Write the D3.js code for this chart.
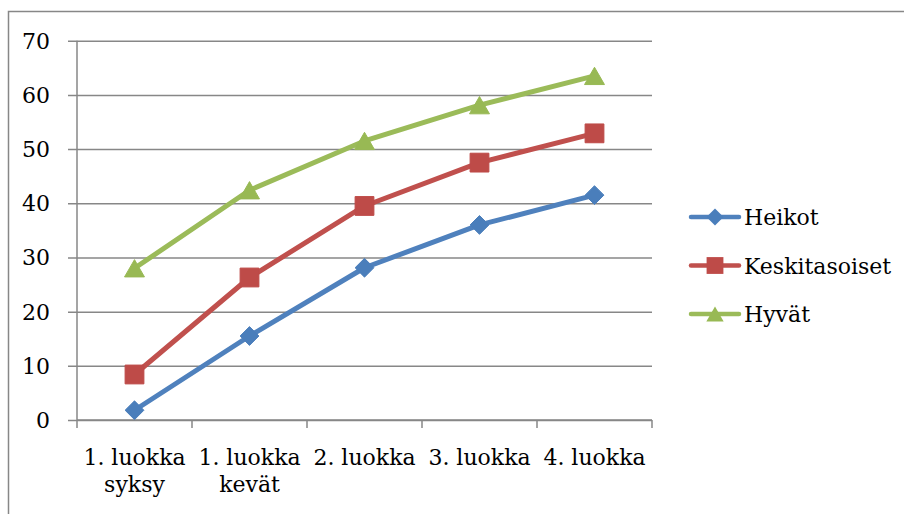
<!DOCTYPE html>
<html>
<head>
<meta charset="utf-8">
<script src="https://cdn.jsdelivr.net/npm/d3@7"></script>
<style>
  html, body { margin: 0; padding: 0; background: #fff; }
  svg { display: block; }
</style>
</head>
<body>
<svg id="chart" width="904" height="514"></svg>
<script>
// Category labels (two-line labels split on "\n")
const categories = ["1. luokka\nsyksy", "1. luokka\nkevät", "2. luokka", "3. luokka", "4. luokka"];
const seriesNames = ["Heikot", "Keskitasoiset", "Hyvät"];
const heikot = [1.8, 15.5, 28.1, 36.0, 41.5];
const keskitasoiset = [8.4, 26.3, 39.5, 47.5, 52.9];
const hyvat = [28.0, 42.4, 51.5, 58.1, 63.5];
const yTicks = [0, 10, 20, 30, 40, 50, 60, 70];

const series = [
  { name: seriesNames[0], values: heikot, color: "#4F81BD", marker: "#4A7EBB", symbol: d3.symbolDiamond2, size: 225, legendSize: 185 },
  { name: seriesNames[1], values: keskitasoiset, color: "#C0504D", marker: "#BE4B48", symbol: d3.symbolSquare2, size: 450, legendSize: 360 },
  { name: seriesNames[2], values: hyvat, color: "#9BBB59", marker: "#98B954", symbol: d3.symbolTriangle2, size: 285, legendSize: 215 }
];

const svg = d3.select("#chart")
  .attr("font-family", "'DejaVu Serif', serif");
const gridColor = "#878787";
const fontSize = 22;

// Triangles are shifted so their bounding box, not centroid, sits on the point
const markerOffset = (s, size) => s.symbol === d3.symbolTriangle2 ? Math.sqrt(size) * 0.6824 / 4 : 0;

// Outer chart frame (runs off the right and bottom edges)
svg.append("path")
  .attr("d", "M8.5,520 L8.5,11.5 L910,11.5")
  .attr("fill", "none")
  .attr("stroke", gridColor)
  .attr("stroke-width", 1.5);

const plot = { left: 77, right: 652, top: 40.7, bottom: 420 };

const x = d3.scaleBand()
  .domain(categories)
  .range([plot.left, plot.right])
  .paddingInner(0)
  .paddingOuter(0);

const y = d3.scaleLinear()
  .domain([0, 70])
  .range([plot.bottom, plot.top]);

const cx = c => x(c) + x.bandwidth() / 2;

// Horizontal gridlines with left tick stubs
const yAxis = d3.axisLeft(y)
  .tickValues(yTicks)
  .tickSize(-(plot.right - plot.left))
  .tickFormat("");
svg.append("g")
  .attr("transform", `translate(${plot.left},0)`)
  .call(yAxis)
  .call(g => g.select(".domain").remove())
  .call(g => g.selectAll(".tick line")
    .attr("x1", -9)
    .attr("stroke", gridColor)
    .attr("stroke-width", 1.5));

// Y tick labels
svg.append("g").selectAll("text")
  .data(yTicks)
  .join("text")
  .attr("x", 50)
  .attr("y", d => y(d) + 8)
  .attr("text-anchor", "end")
  .attr("font-size", fontSize)
  .text(d => d);

// Vertical axis line
svg.append("line")
  .attr("x1", plot.left).attr("x2", plot.left)
  .attr("y1", plot.top).attr("y2", plot.bottom)
  .attr("stroke", gridColor).attr("stroke-width", 1.5);

// Horizontal axis with ticks on category boundaries
const boundaries = categories.map(c => x(c)).concat([plot.right]);
svg.append("line")
  .attr("x1", plot.left).attr("x2", plot.right)
  .attr("y1", plot.bottom).attr("y2", plot.bottom)
  .attr("stroke", gridColor).attr("stroke-width", 1.5);
svg.append("g").selectAll("line")
  .data(boundaries)
  .join("line")
  .attr("x1", d => d).attr("x2", d => d)
  .attr("y1", plot.bottom).attr("y2", plot.bottom + 8)
  .attr("stroke", gridColor).attr("stroke-width", 1.5);

// Category labels
const catLabels = svg.append("g").selectAll("text")
  .data(categories)
  .join("text")
  .attr("x", d => cx(d))
  .attr("y", 465)
  .attr("text-anchor", "middle")
  .attr("font-size", fontSize);
catLabels.selectAll("tspan")
  .data(d => d.split("\n").map(t => ({ t, c: d })))
  .join("tspan")
  .attr("x", d => cx(d.c))
  .attr("dy", (d, i) => i === 0 ? 0 : 26.5)
  .text(d => d.t);

// Series lines and markers
const line = d3.line()
  .x((d, i) => cx(categories[i]))
  .y(d => y(d));

series.forEach(s => {
  svg.append("path")
    .datum(s.values)
    .attr("d", line)
    .attr("fill", "none")
    .attr("stroke", s.color)
    .attr("stroke-width", 5)
    .attr("stroke-linejoin", "round")
    .attr("stroke-linecap", "round");
});

series.forEach(s => {
  const sym = d3.symbol().type(s.symbol).size(s.size);
  svg.append("g").selectAll("path")
    .data(s.values)
    .join("path")
    .attr("d", sym)
    .attr("transform", (d, i) => `translate(${cx(categories[i])},${y(d) + markerOffset(s, s.size)})`)
    .attr("fill", s.marker)
    .attr("stroke", s.marker)
    .attr("stroke-width", 1);
});

// Legend
const legend = svg.append("g");
const legendY = [217, 265.5, 314];
series.forEach((s, i) => {
  const g = legend.append("g").attr("transform", `translate(0,${legendY[i]})`);
  g.append("line")
    .attr("x1", 691).attr("x2", 739)
    .attr("stroke", s.color)
    .attr("stroke-width", 4.5)
    .attr("stroke-linecap", "round");
  g.append("path")
    .attr("d", d3.symbol().type(s.symbol).size(s.legendSize))
    .attr("transform", `translate(715,${markerOffset(s, s.legendSize)})`)
    .attr("fill", s.marker);
  g.append("text")
    .attr("x", 744)
    .attr("y", 8)
    .attr("font-size", fontSize)
    .text(s.name);
});
</script>
</body>
</html>
